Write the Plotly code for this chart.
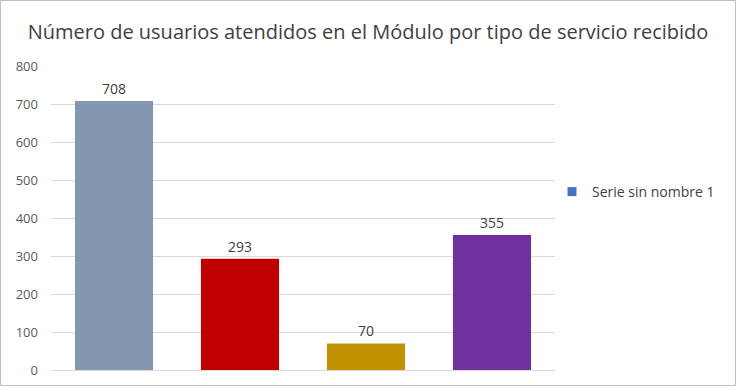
import plotly.graph_objects as go

categories = ["Servicio 1", "Servicio 2", "Servicio 3", "Servicio 4"]
values = [708, 293, 70, 355]
bar_colors = ["#8497B0", "#C00000", "#BF9000", "#7030A0"]
series_name = "Serie sin nombre 1"
legend_color = "#4472C4"
title_text = "Número de usuarios atendidos en el Módulo por tipo de servicio recibido"
y_ticks = [0, 100, 200, 300, 400, 500, 600, 700, 800]

W, H = 736, 386
L, R, T, B = 51, 181, 66, 16
pw, ph = W - L - R, H - T - B

fig = go.Figure()
fig.add_trace(go.Bar(
    x=categories, y=values, marker=dict(color=bar_colors, line=dict(width=0)),
    text=[str(v) for v in values], textposition="outside", cliponaxis=False,
    textfont=dict(family="Open Sans, sans-serif", size=14, color="#404040"),
    showlegend=False, width=0.62,
))
fig.add_trace(go.Scatter(
    x=[None], y=[None], mode="markers", name=series_name,
    marker=dict(symbol="square", size=9, color=legend_color),
))

fig.update_layout(
    width=W, height=H,
    margin=dict(l=L, r=R, t=T, b=B, autoexpand=False),
    paper_bgcolor="white", plot_bgcolor="white",
    title=dict(text=title_text, x=0.5, xref="container", y=1 - 32 / H, yanchor="middle",
               xanchor="center",
               font=dict(family="Open Sans, sans-serif", size=20, color="#404040")),
    xaxis=dict(showticklabels=False, showgrid=False, showline=True,
               linecolor="#D9D9D9", linewidth=1, ticks=""),
    yaxis=dict(range=[0, 800], tickvals=y_ticks, showgrid=True, gridcolor="#D9D9D9",
               gridwidth=1, zeroline=False, ticks="", showline=False,
               tickfont=dict(family="Open Sans, sans-serif", size=13, color="#595959"),
               ticklabelstandoff=12),
    legend=dict(x=(552 - L) / pw, y=(H - B - 192) / ph, xanchor="left", yanchor="middle",
                font=dict(family="Open Sans, sans-serif", size=14, color="#404040"),
                itemwidth=30, bgcolor="rgba(0,0,0,0)"),
    shapes=[dict(type="rect", xref="paper", yref="paper",
                 x0=(0.5 - L) / pw, x1=(W - 0.5 - L) / pw,
                 y0=-(B - 0.5) / ph, y1=(H - B - 0.5) / ph,
                 line=dict(color="#BFBFBF", width=1), fillcolor="rgba(0,0,0,0)",
                 layer="above")],
)

fig.write_html("out.html", config={"displayModeBar": False},
               post_script="document.body.style.margin='0';")
